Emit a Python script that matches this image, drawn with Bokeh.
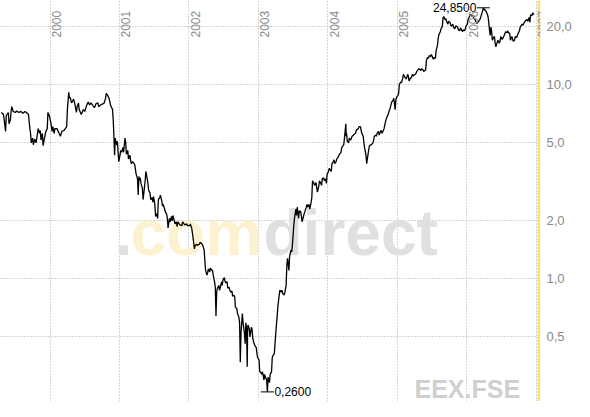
from math import pi
from bokeh.plotting import figure
from bokeh.models import FixedTicker, CustomJSTickFormatter, Label, Span
from bokeh.core.properties import value
from bokeh.embed import file_html
from bokeh.resources import INLINE

year_ticks = [2000, 2001, 2002, 2003, 2004, 2005, 2006, 2007]
year_labels = ["2000", "2001", "2002", "2003", "2004", "2005", "2006", "2007"]
price_ticks = [0.5, 1.0, 2.0, 5.0, 10.0, 20.0]
symbol = "EEX.FSE"

dates = [
    1999.30, 1999.33, 1999.34, 1999.36, 1999.37, 1999.40, 1999.41, 1999.43, 1999.44, 1999.45,
    1999.47, 1999.50, 1999.52, 1999.55, 1999.58, 1999.61, 1999.64, 1999.66, 1999.69, 1999.71,
    1999.72, 1999.73, 1999.75, 1999.76, 1999.78, 1999.80, 1999.83, 1999.85, 1999.86, 1999.87,
    1999.89, 1999.90, 1999.92, 1999.94, 1999.96, 1999.97, 1999.99, 2000.01, 2000.03, 2000.04,
    2000.06, 2000.07, 2000.10, 2000.13, 2000.15, 2000.17, 2000.20, 2000.22, 2000.24, 2000.25,
    2000.27, 2000.28, 2000.29, 2000.31, 2000.34, 2000.36, 2000.38, 2000.39, 2000.41, 2000.42,
    2000.45, 2000.48, 2000.50, 2000.53, 2000.55, 2000.57, 2000.59, 2000.62, 2000.64, 2000.66,
    2000.69, 2000.70, 2000.73, 2000.76, 2000.78, 2000.80, 2000.81, 2000.83, 2000.85, 2000.87,
    2000.90, 2000.91, 2000.92, 2000.93, 2000.94, 2000.95, 2000.96, 2000.97, 2000.99, 2001.01,
    2001.02, 2001.03, 2001.05, 2001.06, 2001.08, 2001.09, 2001.10, 2001.12, 2001.13, 2001.15,
    2001.16, 2001.17, 2001.19, 2001.22, 2001.23, 2001.24, 2001.26, 2001.27, 2001.28, 2001.29,
    2001.30, 2001.31, 2001.33, 2001.34, 2001.36, 2001.37, 2001.38, 2001.40, 2001.41, 2001.42,
    2001.44, 2001.45, 2001.47, 2001.48, 2001.49, 2001.51, 2001.52, 2001.54, 2001.55, 2001.56,
    2001.58, 2001.59, 2001.61, 2001.62, 2001.63, 2001.65, 2001.66, 2001.68, 2001.69, 2001.70,
    2001.72, 2001.73, 2001.75, 2001.76, 2001.77, 2001.79, 2001.80, 2001.82, 2001.83, 2001.84,
    2001.87, 2001.90, 2001.91, 2001.94, 2001.97, 2001.98, 2002.01, 2002.02, 2002.04, 2002.05,
    2002.06, 2002.08, 2002.09, 2002.11, 2002.12, 2002.15, 2002.16, 2002.17, 2002.19, 2002.20,
    2002.22, 2002.23, 2002.24, 2002.26, 2002.27, 2002.28, 2002.30, 2002.31, 2002.33, 2002.34,
    2002.35, 2002.37, 2002.38, 2002.39, 2002.40, 2002.41, 2002.43, 2002.44, 2002.45, 2002.47,
    2002.48, 2002.49, 2002.51, 2002.52, 2002.53, 2002.55, 2002.56, 2002.58, 2002.59, 2002.60,
    2002.62, 2002.63, 2002.65, 2002.66, 2002.67, 2002.69, 2002.70, 2002.72, 2002.73, 2002.74,
    2002.75, 2002.756, 2002.77, 2002.78, 2002.80, 2002.81, 2002.82, 2002.83, 2002.84, 2002.845,
    2002.85, 2002.87, 2002.88, 2002.90, 2002.91, 2002.92, 2002.94, 2002.95, 2002.97, 2002.98,
    2002.99, 2003.01, 2003.02, 2003.03, 2003.05, 2003.06, 2003.08, 2003.09, 2003.10, 2003.12,
    2003.13, 2003.14, 2003.16, 2003.17, 2003.19, 2003.20, 2003.21, 2003.23, 2003.24, 2003.26,
    2003.27, 2003.28, 2003.30, 2003.31, 2003.33, 2003.34, 2003.35, 2003.37, 2003.38, 2003.40,
    2003.41, 2003.42, 2003.44, 2003.45, 2003.47, 2003.48, 2003.49, 2003.51, 2003.52, 2003.54,
    2003.55, 2003.56, 2003.58, 2003.59, 2003.61, 2003.62, 2003.63, 2003.65, 2003.66, 2003.67,
    2003.69, 2003.70, 2003.71, 2003.73, 2003.74, 2003.76, 2003.77, 2003.78, 2003.80, 2003.81,
    2003.83, 2003.84, 2003.85, 2003.87, 2003.88, 2003.90, 2003.91, 2003.92, 2003.94, 2003.95,
    2003.97, 2003.98, 2003.99, 2004.01, 2004.02, 2004.03, 2004.05, 2004.06, 2004.08, 2004.09,
    2004.10, 2004.12, 2004.13, 2004.15, 2004.16, 2004.17, 2004.19, 2004.20, 2004.22, 2004.23,
    2004.24, 2004.26, 2004.265, 2004.27, 2004.28, 2004.30, 2004.31, 2004.33, 2004.34, 2004.35,
    2004.37, 2004.38, 2004.40, 2004.41, 2004.42, 2004.44, 2004.45, 2004.47, 2004.48, 2004.49,
    2004.51, 2004.52, 2004.53, 2004.55, 2004.56, 2004.58, 2004.59, 2004.60, 2004.62, 2004.63,
    2004.65, 2004.66, 2004.67, 2004.69, 2004.70, 2004.71, 2004.73, 2004.74, 2004.76, 2004.77,
    2004.78, 2004.80, 2004.81, 2004.83, 2004.84, 2004.85, 2004.87, 2004.88, 2004.90, 2004.91,
    2004.92, 2004.94, 2004.95, 2004.97, 2004.98, 2004.99, 2005.01, 2005.02, 2005.03, 2005.05,
    2005.06, 2005.08, 2005.09, 2005.10, 2005.12, 2005.13, 2005.15, 2005.16, 2005.17, 2005.19,
    2005.20, 2005.22, 2005.23, 2005.24, 2005.26, 2005.27, 2005.28, 2005.30, 2005.31, 2005.33,
    2005.34, 2005.35, 2005.37, 2005.38, 2005.40, 2005.41, 2005.42, 2005.44, 2005.45, 2005.46,
    2005.48, 2005.49, 2005.51, 2005.52, 2005.53, 2005.55, 2005.56, 2005.58, 2005.59, 2005.60,
    2005.62, 2005.63, 2005.65, 2005.66, 2005.67, 2005.69, 2005.70, 2005.71, 2005.73, 2005.74,
    2005.76, 2005.77, 2005.78, 2005.80, 2005.81, 2005.83, 2005.84, 2005.85, 2005.87, 2005.88,
    2005.90, 2005.91, 2005.92, 2005.94, 2005.95, 2005.97, 2005.98, 2005.99, 2006.01, 2006.02,
    2006.04, 2006.05, 2006.06, 2006.08, 2006.09, 2006.10, 2006.12, 2006.13, 2006.15, 2006.16,
    2006.17, 2006.19, 2006.20, 2006.22, 2006.23, 2006.24, 2006.26, 2006.27, 2006.29, 2006.30,
    2006.31, 2006.33, 2006.34, 2006.35, 2006.36, 2006.37, 2006.38, 2006.40, 2006.41, 2006.42,
    2006.44, 2006.45, 2006.47, 2006.48, 2006.49, 2006.51, 2006.52, 2006.54, 2006.55, 2006.56,
    2006.58, 2006.59, 2006.60, 2006.62, 2006.63, 2006.65, 2006.66, 2006.67, 2006.69, 2006.70,
    2006.72, 2006.73, 2006.74, 2006.76, 2006.77, 2006.78, 2006.80, 2006.81, 2006.83, 2006.84,
    2006.85, 2006.87, 2006.88, 2006.90, 2006.91, 2006.92, 2006.94, 2006.95, 2006.97,
]

prices = [
    7.17, 7.00, 6.60, 5.73, 6.90, 7.17, 6.27, 6.60, 7.30, 7.68,
    7.26, 7.17, 7.30, 7.17, 7.26, 7.10, 7.26, 7.17, 7.00, 5.92,
    5.60, 5.00, 5.29, 4.89, 5.23, 5.00, 5.92, 5.60, 5.79, 5.17,
    5.60, 4.84, 5.29, 5.73, 5.92, 7.17, 6.90, 6.41, 5.73, 6.06,
    5.60, 5.92, 5.92, 5.60, 5.41, 5.73, 5.79, 5.92, 6.06, 7.42,
    9.10, 8.50, 8.59, 8.03, 8.40, 7.85, 7.17, 7.68, 8.03, 7.42,
    7.00, 7.42, 7.26, 7.85, 8.12, 7.85, 8.03, 7.76, 7.59, 7.94,
    8.03, 7.68, 7.85, 7.94, 8.03, 8.50, 8.99, 8.79, 8.50, 7.85,
    7.42, 6.60, 5.41, 4.32, 5.29, 5.00, 4.89, 5.10, 4.00, 4.37,
    4.57, 4.47, 4.73, 4.47, 5.29, 5.00, 4.37, 4.57, 4.13, 4.32,
    4.09, 3.91, 4.00, 3.86, 3.65, 3.45, 3.26, 2.69, 3.36, 3.19,
    3.30, 3.09, 2.92, 2.55, 2.95, 3.19, 3.56, 3.26, 3.09, 2.85,
    2.76, 2.55, 2.61, 2.47, 2.64, 2.41, 2.09, 2.16, 2.04, 2.55,
    2.61, 2.69, 2.50, 2.36, 2.41, 2.28, 2.21, 2.14, 2.04, 1.82,
    2.04, 1.96, 2.09, 1.98, 2.11, 1.98, 1.91, 1.96, 1.85, 1.96,
    1.89, 1.87, 1.96, 1.89, 1.91, 1.87, 1.87, 1.91, 1.82, 1.72,
    1.62, 1.42, 1.48, 1.50, 1.48, 1.50, 1.53, 1.53, 1.50, 1.48,
    1.40, 1.23, 1.10, 1.04, 1.07, 1.12, 1.08, 1.13, 1.10, 1.10,
    1.04, 0.96, 0.90, 0.64, 0.85, 0.89, 0.92, 0.87, 0.89, 0.96,
    0.92, 0.98, 1.01, 0.97, 0.95, 0.96, 0.89, 0.90, 0.87, 0.85,
    0.86, 0.81, 0.82, 0.80, 0.71, 0.70, 0.66, 0.63, 0.59, 0.37,
    0.52, 0.56, 0.66, 0.59, 0.52, 0.46, 0.59, 0.55, 0.35, 0.52,
    0.575, 0.55, 0.50, 0.56, 0.545, 0.49, 0.46, 0.45, 0.44, 0.41,
    0.39, 0.38, 0.33, 0.33, 0.32, 0.33, 0.30, 0.32, 0.31, 0.30,
    0.26, 0.31, 0.29, 0.32, 0.33, 0.39, 0.40, 0.41, 0.46, 0.575,
    0.63, 0.71, 0.82, 0.87, 0.85, 0.87, 0.84, 0.82, 0.84, 0.92,
    1.16, 1.27, 1.10, 1.30, 1.40, 1.37, 1.48, 1.87, 2.04, 2.28,
    2.11, 2.33, 2.04, 2.23, 2.21, 2.09, 1.96, 2.09, 2.16, 2.21,
    2.33, 2.41, 2.33, 2.41, 2.28, 2.47, 2.61, 3.19, 3.09, 3.02,
    3.12, 2.95, 2.79, 2.98, 3.19, 3.09, 3.02, 3.26, 3.30, 3.19,
    3.26, 3.09, 3.45, 3.56, 3.69, 3.65, 3.56, 3.91, 4.00, 4.09,
    3.91, 4.00, 4.13, 4.22, 4.32, 4.37, 4.47, 4.73, 4.84, 4.89,
    5.29, 6.27, 5.41, 5.60, 5.12, 5.00, 5.29, 5.17, 5.29, 5.41,
    5.48, 5.54, 5.60, 5.79, 5.85, 5.92, 6.06, 6.06, 5.79, 5.60,
    5.41, 5.00, 4.73, 4.32, 3.91, 4.37, 4.63, 4.84, 4.89, 4.89,
    5.00, 5.17, 5.41, 5.48, 5.41, 5.60, 5.73, 5.48, 5.73, 5.79,
    5.60, 5.79, 5.92, 6.41, 6.60, 6.78, 7.01, 7.26, 7.59, 7.85,
    8.12, 8.30, 8.50, 7.42, 8.30, 8.59, 8.79, 8.99, 10.0, 10.3,
    10.2, 10.78, 11.28, 11.03, 10.78, 10.66, 11.28, 11.03, 10.43, 10.78,
    10.78, 11.28, 11.03, 11.15, 11.28, 11.40, 11.66, 11.93, 12.06, 11.93,
    11.80, 12.06, 11.93, 11.66, 11.80, 11.93, 13.33, 13.79, 13.63, 14.10,
    13.95, 14.26, 13.79, 13.48, 13.79, 13.63, 14.93, 15.97, 17.28, 18.08,
    18.70, 19.34, 20.00, 22.13, 22.40, 21.60, 21.85, 21.16, 20.45, 21.16,
    20.92, 20.22, 20.00, 20.45, 19.78, 19.34, 20.00, 20.00, 19.78, 19.12,
    18.91, 19.56, 19.34, 18.70, 19.12, 18.91, 19.34, 20.00, 20.45, 21.60,
    22.40, 22.90, 22.90, 22.40, 22.65, 22.13, 21.60, 21.16, 20.68, 20.92,
    21.16, 21.60, 22.13, 23.40, 23.90, 24.85, 24.20, 24.20, 23.40, 22.90,
    22.13, 18.91, 17.88, 19.78, 18.70, 16.90, 17.28, 17.68, 16.33, 15.62,
    16.52, 16.90, 16.33, 16.71, 17.68, 17.08, 17.28, 17.88, 18.29, 18.70,
    18.50, 18.91, 18.50, 18.29, 16.90, 17.68, 17.28, 16.71, 16.90, 17.68,
    17.48, 17.88, 18.29, 18.91, 19.78, 20.00, 20.45, 20.22, 20.92, 21.16,
    21.38, 21.60, 21.16, 22.13, 20.92, 22.90, 22.65, 23.40, 22.90,
]

assert len(dates) == len(prices)

FONT = "Liberation Sans"

p = figure(width=574, height=401, y_axis_type="log",
           x_range=(1999.287, 2007.063), y_range=(0.232, 27.1),
           output_backend="svg", toolbar_location=None,
           x_axis_location=None, y_axis_location="right",
           min_border=0, outline_line_color=None,
           background_fill_color="white", border_fill_color="white")

# grids
p.xgrid.ticker = FixedTicker(ticks=year_ticks)
p.ygrid.ticker = FixedTicker(ticks=price_ticks)
for g in (p.xgrid, p.ygrid):
    g.grid_line_color = "#aaaaaa"
    g.grid_line_dash = "1 2"
    g.grid_line_width = 1

# right axis
ax = p.yaxis[0]
ax.ticker = FixedTicker(ticks=price_ticks)
ax.formatter = CustomJSTickFormatter(code="return tick.toFixed(1).replace('.', ',');")
ax.axis_line_color = None
ax.major_tick_line_color = None
ax.minor_tick_line_color = None
ax.major_tick_out = 0
ax.major_tick_in = 0
ax.minor_tick_out = 0
ax.minor_tick_in = 0
ax.major_label_text_color = "#8a8a8a"
ax.major_label_text_font = FONT
ax.major_label_text_font_size = "13px"
ax.major_label_standoff = 6

# watermarks
wm_gray = "#e0e0e0"
wm_yellow = "#fdf2d0"
for txt, xs, col in ((".", 114, wm_gray), ("com", 130, wm_yellow), ("direct", 263, wm_gray)):
    p.add_layout(Label(x=xs, y=169, x_units="screen", y_units="screen", text=txt,
                       text_font=FONT, text_font_style="bold", text_font_size="64px",
                       text_color=col, text_baseline="alphabetic", text_align="left",
                       level="underlay"))
p.add_layout(Label(x=414, y=13, x_units="screen", y_units="screen", text=symbol,
                   text_font=FONT, text_font_style="bold", text_font_size="25px",
                   text_color="#d0d0d0", text_baseline="alphabetic", text_align="left",
                   level="underlay"))

# "today" marker
p.add_layout(Span(location=2007.04, dimension="height", line_color="#f7e27f",
                  line_width=3, level="underlay"))

# year labels inside top
for yr, lab in zip(year_ticks, year_labels):
    p.add_layout(Label(x=yr, y=364, x_units="data", y_units="screen", text=lab,
                       angle=pi / 2, text_align="left", text_baseline="top",
                       x_offset=2, text_font=FONT, text_font_size="12px",
                       text_color="#8c8c8c"))

# price line
p.line(dates, prices, line_color="black", line_width=1.3)

# max/min annotations
i_max = max(range(len(prices)), key=lambda i: prices[i])
i_min = min(range(len(prices)), key=lambda i: prices[i])
fmt = lambda v: f"{v:.4f}".replace(".", ",")
p.scatter([dates[i_max], dates[i_min]], [prices[i_max], prices[i_min]],
          marker="dash", size=13, line_color="black", line_width=1)
p.text([dates[i_max]], [prices[i_max]], text=[fmt(prices[i_max])],
       x_offset=-7, text_align="right", text_baseline="middle",
       text_font=value(FONT), text_font_size="12px", text_color="black")
p.text([dates[i_min]], [prices[i_min]], text=[fmt(prices[i_min])],
       x_offset=7, text_align="left", text_baseline="middle",
       text_font=value(FONT), text_font_size="12px", text_color="black")

open("out.html", "w").write(file_html(p, INLINE))
